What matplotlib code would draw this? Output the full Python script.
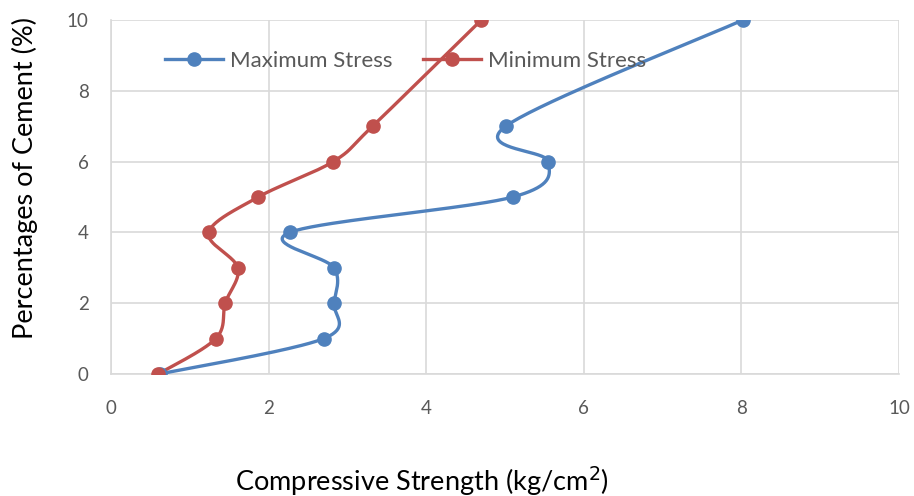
import numpy as np
import matplotlib
matplotlib.use("Agg")
import matplotlib.pyplot as plt

cement = [0, 1, 2, 3, 4, 5, 6, 7, 10]
max_stress = [0.62, 2.70, 2.83, 2.83, 2.27, 5.10, 5.55, 5.01, 8.02]
min_stress = [0.60, 1.33, 1.45, 1.61, 1.24, 1.87, 2.82, 3.32, 4.70]
xticks = [0, 2, 4, 6, 8, 10]
yticks = [0, 2, 4, 6, 8, 10]

BLUE = "#4F81BD"
RED = "#C0504D"

plt.rcParams['font.family'] = ['Lato', 'DejaVu Sans']

fig = plt.figure(figsize=(9.14, 4.96), dpi=100)
ax = fig.add_axes([0.1214, 0.246, 0.8622, 0.7137])
ax.set_xlim(0, 10)
ax.set_ylim(0, 10)


def smooth(xs, ys, sx, sy, n=40):
    P = np.column_stack([np.asarray(xs) * sx, np.asarray(ys) * sy])
    out = []
    for i in range(len(P) - 1):
        p0 = P[i - 1] if i > 0 else P[i]
        p1 = P[i]
        p2 = P[i + 1]
        p3 = P[i + 2] if i + 2 < len(P) else P[i + 1]
        c1 = p1 + (p2 - p0) / 6.0
        c2 = p2 - (p3 - p1) / 6.0
        t = np.linspace(0, 1, n)[:, None]
        seg = ((1 - t) ** 3) * p1 + 3 * ((1 - t) ** 2) * t * c1 + 3 * (1 - t) * t ** 2 * c2 + t ** 3 * p2
        out.append(seg if i == 0 else seg[1:])
    out = np.vstack(out)
    return out[:, 0] / sx, out[:, 1] / sy


sx, sy = 78.8, 35.5
for vals, col, lab in [(max_stress, BLUE, "Maximum Stress"), (min_stress, RED, "Minimum Stress")]:
    cx, cy = smooth(vals, cement, sx, sy)
    ax.plot(cx, cy, color=col, lw=2.4, solid_capstyle='round', zorder=3)
    ax.plot(vals, cement, 'o', color=col, ms=9.5, zorder=4)
    ax.plot([], [], '-o', color=col, lw=2.4, ms=9.5, label=lab)

ax.set_xticks(xticks)
ax.set_yticks(yticks)
ax.grid(True, color="#D9D9D9", lw=1.2)
ax.set_axisbelow(True)
for s in ["top", "right"]:
    ax.spines[s].set_visible(False)
for s in ["left", "bottom"]:
    ax.spines[s].set_color("#D9D9D9")
    ax.spines[s].set_linewidth(1.2)
ax.tick_params(length=0, labelsize=13.5, labelcolor="#595959")
ax.tick_params(axis='x', pad=19)
ax.tick_params(axis='y', pad=16)

fig.text(25 / 914, 1 - 178 / 496, "Percentages of Cement (%)", rotation=90,
         ha="center", va="center", fontsize=19.5, color="black")
fig.text(422 / 914, 1 - 481 / 496, "Compressive Strength (kg/cm$^2$)",
         ha="center", va="center", fontsize=19.5, color="black")

leg = ax.legend(loc="center left", bbox_to_anchor=(0.069, 0.885), ncol=2, frameon=False,
                fontsize=16, handlelength=2.6, columnspacing=1.4, handletextpad=0.3,
                borderpad=0, borderaxespad=0)
for t in leg.get_texts():
    t.set_color("#595959")

fig.savefig("out.png", dpi=100)
